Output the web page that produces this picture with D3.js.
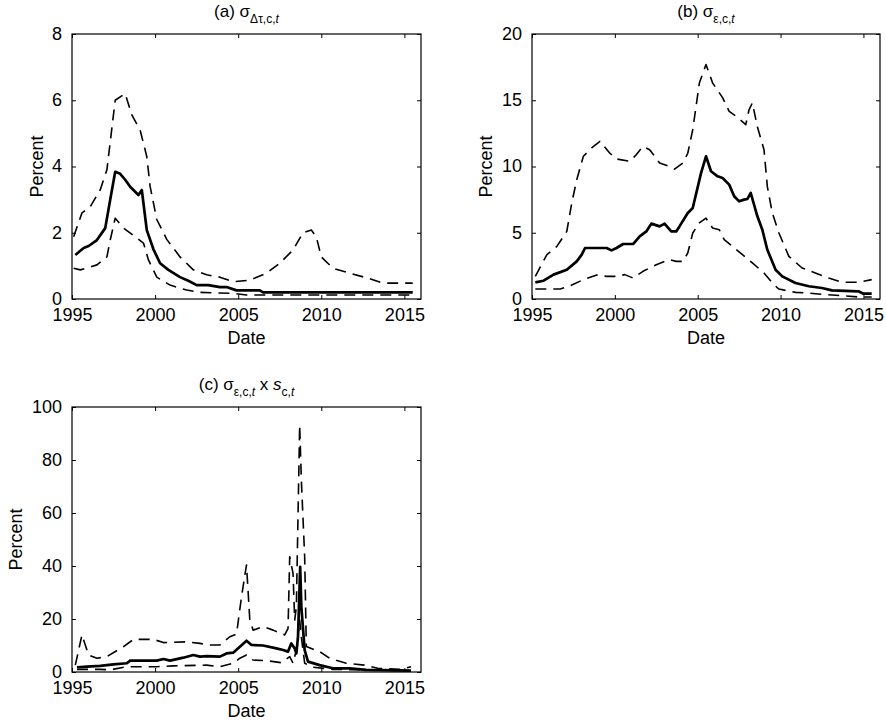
<!DOCTYPE html>
<html><head><meta charset="utf-8">
<script src="https://cdn.jsdelivr.net/npm/d3@7"></script>
<style>
body{margin:0;background:#fff;}
svg{display:block;}
text{font-family:"Liberation Sans",Arial,Helvetica,sans-serif;fill:#000;}
</style></head>
<body>
<svg id="chart" width="886" height="724"></svg>
<script>
// ---------- DATA ----------
const xTicks = [1995, 2000, 2005, 2010, 2015];
const yTicksA = [0, 2, 4, 6, 8];
const yTicksB = [0, 5, 10, 15, 20];
const yTicksC = [0, 20, 40, 60, 80, 100];

// Panel (a) sigma_{Δτ,c,t}
const aMedian = [[1995.2,1.33],[1995.7,1.54],[1996.0,1.6],[1996.5,1.78],[1997.0,2.14],[1997.3,3.0],[1997.6,3.84],[1997.9,3.78],[1998.2,3.6],[1998.5,3.39],[1999.0,3.14],[1999.2,3.29],[1999.5,2.08],[1999.9,1.5],[2000.3,1.08],[2000.8,0.88],[2001.5,0.66],[2002.0,0.55],[2002.5,0.42],[2003.2,0.42],[2003.9,0.36],[2004.3,0.36],[2004.9,0.26],[2006.3,0.26],[2006.5,0.2],[2015.5,0.2]];
const aUpper = [[1995.1,1.88],[1995.6,2.6],[1996.1,2.79],[1996.7,3.3],[1997.1,3.9],[1997.6,6.0],[1998.2,6.2],[1998.6,5.56],[1999.1,5.1],[1999.5,4.3],[1999.7,3.4],[2000.1,2.4],[2000.7,1.8],[2001.5,1.27],[2002.3,0.88],[2003.1,0.73],[2003.9,0.66],[2004.7,0.52],[2005.7,0.57],[2006.7,0.78],[2007.5,1.08],[2008.3,1.48],[2008.9,2.0],[2009.4,2.08],[2009.7,1.88],[2010.0,1.27],[2010.7,0.93],[2011.7,0.78],[2012.8,0.63],[2013.7,0.48],[2015.5,0.48]];
const aLower = [[1995.1,0.93],[1995.5,0.88],[1995.9,0.93],[1996.5,1.03],[1997.1,1.27],[1997.3,1.78],[1997.6,2.44],[1998.1,2.14],[1998.9,1.84],[1999.3,1.69],[1999.6,1.18],[2000.1,0.66],[2000.9,0.42],[2001.9,0.27],[2002.7,0.2],[2004.7,0.17],[2005.5,0.12],[2015.5,0.12]];

// Panel (b) sigma_{ε,c,t}
const bMedian = [[1995.2,1.26],[1995.7,1.38],[1996.3,1.84],[1997.1,2.21],[1997.7,2.84],[1998.0,3.35],[1998.2,3.85],[1999.5,3.85],[1999.8,3.67],[2000.1,3.85],[2000.5,4.15],[2001.1,4.15],[2001.5,4.73],[2001.9,5.1],[2002.2,5.69],[2002.7,5.48],[2003.0,5.69],[2003.4,5.1],[2003.7,5.1],[2003.9,5.48],[2004.4,6.49],[2004.7,6.87],[2005.2,9.5],[2005.5,10.77],[2005.8,9.64],[2006.2,9.26],[2006.5,9.13],[2006.9,8.63],[2007.2,7.75],[2007.5,7.37],[2007.8,7.5],[2008.0,7.55],[2008.2,8.0],[2008.6,6.24],[2008.9,5.23],[2009.2,3.72],[2009.7,2.21],[2010.1,1.71],[2010.9,1.21],[2011.7,0.96],[2012.5,0.83],[2013.1,0.65],[2014.7,0.58],[2015.0,0.4],[2015.5,0.4]];
const bUpper = [[1995.2,1.71],[1995.9,3.35],[1996.5,3.97],[1997.1,5.1],[1997.4,7.25],[1997.7,9.0],[1998.1,10.77],[1998.6,11.4],[1999.1,11.9],[1999.7,11.0],[2000.1,10.57],[2000.9,10.4],[2001.3,10.9],[2001.7,11.52],[2002.1,11.27],[2002.7,10.26],[2003.3,10.0],[2003.6,9.8],[2004.1,10.26],[2004.4,11.0],[2004.7,12.78],[2005.1,16.3],[2005.5,17.7],[2005.9,16.3],[2006.5,15.2],[2006.9,14.16],[2007.3,13.8],[2007.9,13.16],[2008.1,14.3],[2008.3,14.8],[2008.6,13.0],[2009.0,11.27],[2009.2,8.5],[2009.5,6.5],[2009.9,4.98],[2010.5,3.22],[2011.3,2.34],[2012.1,1.96],[2012.9,1.58],[2013.7,1.26],[2014.7,1.26],[2015.5,1.46]];
const bLower = [[1995.2,0.75],[1996.7,0.75],[1997.3,1.0],[1998.1,1.46],[1999.0,1.84],[1999.5,1.71],[2000.1,1.71],[2000.6,1.84],[2001.1,1.58],[2001.7,2.09],[2002.5,2.59],[2003.3,2.97],[2003.7,2.84],[2004.1,2.84],[2004.4,3.47],[2004.7,4.98],[2005.1,5.74],[2005.5,6.1],[2005.9,5.36],[2006.3,5.23],[2006.6,4.48],[2007.1,3.97],[2007.7,3.35],[2008.3,2.72],[2009.0,1.96],[2009.6,1.08],[2009.9,0.75],[2010.9,0.5],[2011.7,0.45],[2012.7,0.33],[2013.7,0.25],[2014.7,0.15],[2015.5,0.15]];

// Panel (c) sigma_{ε,c,t} x s_{c,t}
const cMedian = [[1995.3,1.8],[1995.9,2.0],[1996.7,2.3],[1997.5,2.9],[1998.3,3.3],[1998.5,4.3],[2000.1,4.3],[2000.5,4.9],[2000.9,4.3],[2001.7,5.4],[2002.3,6.4],[2002.7,5.8],[2003.1,6.0],[2003.9,5.8],[2004.3,7.0],[2004.7,7.3],[2005.1,9.5],[2005.5,11.8],[2005.8,10.2],[2006.5,10.0],[2007.3,8.9],[2007.7,8.3],[2008.0,7.7],[2008.2,10.8],[2008.4,8.9],[2008.5,7.0],[2008.6,13.3],[2008.73,39.7],[2008.8,24.6],[2009.0,8.3],[2009.2,3.9],[2009.9,2.6],[2010.7,1.4],[2011.7,1.4],[2012.7,0.8],[2015.4,0.5]];
const cUpper = [[1995.2,2.6],[1995.6,14.0],[1996.0,6.4],[1996.5,5.2],[1997.1,5.8],[1998.1,9.6],[1998.7,12.3],[1999.9,12.3],[2000.5,11.1],[2001.9,11.4],[2002.7,10.8],[2003.1,10.2],[2003.9,10.2],[2004.5,13.3],[2004.9,14.3],[2005.2,28.4],[2005.5,40.4],[2005.7,19.6],[2005.9,15.8],[2006.5,17.1],[2007.1,15.8],[2007.8,14.0],[2008.0,16.5],[2008.1,43.5],[2008.3,37.2],[2008.4,19.6],[2008.5,24.6],[2008.7,93.2],[2008.8,72.5],[2009.0,43.5],[2009.1,9.6],[2009.9,7.7],[2010.5,5.2],[2011.5,3.3],[2012.6,2.6],[2013.4,1.4],[2014.8,1.0],[2015.4,2.0]];
const cLower = [[1995.3,1.0],[1996.7,1.0],[1997.3,0.8],[1998.3,2.0],[2000.1,2.0],[2001.1,2.3],[2003.1,2.6],[2003.9,2.0],[2004.7,3.3],[2005.1,5.2],[2005.5,6.4],[2005.9,4.5],[2006.7,4.3],[2007.6,3.5],[2008.1,5.8],[2008.3,3.3],[2008.5,8.3],[2008.7,19.6],[2008.8,13.3],[2009.0,3.3],[2009.5,1.8],[2010.7,1.0],[2015.4,0.5]];

// ---------- DRAW ----------
const svg = d3.select("#chart");

function panel(cfg){
  const {left,right,top,bottom,yMax,yTicks,series,title,ylabX} = cfg;
  const x = d3.scaleLinear().domain([1995,2016]).range([left,right]);
  const y = d3.scaleLinear().domain([0,yMax]).range([bottom,top]);
  const g = svg.append("g");

  const cid = "clip"+Math.round(left)+"_"+Math.round(top);
  svg.append("clipPath").attr("id",cid).append("rect")
    .attr("x",left).attr("y",top).attr("width",right-left).attr("height",bottom-top);

  const tl = 4;
  g.append("g").attr("transform",`translate(0,${bottom})`)
    .call(d3.axisBottom(x).tickValues(xTicks).tickSizeInner(-tl).tickSizeOuter(0).tickPadding(9).tickFormat(d3.format("d")))
    .call(s=>{s.select(".domain").remove(); s.selectAll("text").attr("font-size",18).attr("font-family","Liberation Sans, Arial, sans-serif").attr("dy","0.74em");});
  g.append("g").attr("transform",`translate(0,${top})`)
    .call(d3.axisTop(x).tickValues(xTicks).tickSizeInner(-tl).tickSizeOuter(0).tickFormat(""))
    .call(s=>s.select(".domain").remove());
  g.append("g").attr("transform",`translate(${left},0)`)
    .call(d3.axisLeft(y).tickValues(yTicks).tickSizeInner(-tl).tickSizeOuter(0).tickPadding(10))
    .call(s=>{s.select(".domain").remove(); s.selectAll("text").attr("font-size",18).attr("font-family","Liberation Sans, Arial, sans-serif").attr("dy","0.3em");});
  g.append("g").attr("transform",`translate(${right},0)`)
    .call(d3.axisRight(y).tickValues(yTicks).tickSizeInner(-tl).tickSizeOuter(0).tickFormat(""))
    .call(s=>s.select(".domain").remove());
  g.selectAll(".tick line").attr("stroke","#000").attr("stroke-width",1);

  const line = d3.line().x(d=>x(d[0])).y(d=>y(d[1]));
  const lg = g.append("g").attr("clip-path",`url(#${cid})`);
  series.forEach(s=>{
    lg.append("path").datum(s.data).attr("d",line)
      .attr("fill","none").attr("stroke","#000")
      .attr("stroke-width",s.dashed?1.6:2.7)
      .attr("stroke-dasharray",s.dashed?"11,7":null)
      .attr("stroke-linejoin","round");
  });

  g.append("rect").attr("x",left).attr("y",top).attr("width",right-left).attr("height",bottom-top)
    .attr("fill","none").attr("stroke","#000").attr("stroke-width",1.2);

  g.append("text").attr("x",(left+right)/2).attr("y",bottom+45)
    .attr("text-anchor","middle").attr("font-size",18).text("Date");
  g.append("text").attr("transform",`translate(${ylabX},${(top+bottom)/2}) rotate(-90)`)
    .attr("text-anchor","middle").attr("font-size",18).text("Percent");

  const t = g.append("text").attr("x",(left+right)/2).attr("y",top-17)
    .attr("text-anchor","middle").attr("font-size",17);
  title.forEach(p=>{
    const ts = t.append("tspan").text(p.t);
    if(p.sub){ ts.attr("font-size",12).attr("dy",p.dy); }
    else if(p.dy){ ts.attr("dy",p.dy); }
    if(p.it) ts.attr("font-style","italic");
  });
}

panel({left:72,right:421,top:34,bottom:299,yMax:8,yTicks:yTicksA,ylabX:43,
  series:[{data:aUpper,dashed:true},{data:aLower,dashed:true},{data:aMedian,dashed:false}],
  title:[{t:"(a) σ"},{t:"Δτ,c,",sub:true,dy:6},{t:"t",sub:true,it:true,dy:0}]});

panel({left:532,right:880,top:34,bottom:299,yMax:20,yTicks:yTicksB,ylabX:492,
  series:[{data:bUpper,dashed:true},{data:bLower,dashed:true},{data:bMedian,dashed:false}],
  title:[{t:"(b) σ"},{t:"ε,c,",sub:true,dy:6},{t:"t",sub:true,it:true,dy:0}]});

panel({left:72,right:421,top:407,bottom:672,yMax:100,yTicks:yTicksC,ylabX:22,
  series:[{data:cUpper,dashed:true},{data:cLower,dashed:true},{data:cMedian,dashed:false}],
  title:[{t:"(c) σ"},{t:"ε,c,",sub:true,dy:6},{t:"t",sub:true,it:true,dy:0},{t:" x ",dy:-6},{t:"s",it:true,dy:0},{t:"c,",sub:true,dy:6},{t:"t",sub:true,it:true,dy:0}]});
</script>
</body></html>
